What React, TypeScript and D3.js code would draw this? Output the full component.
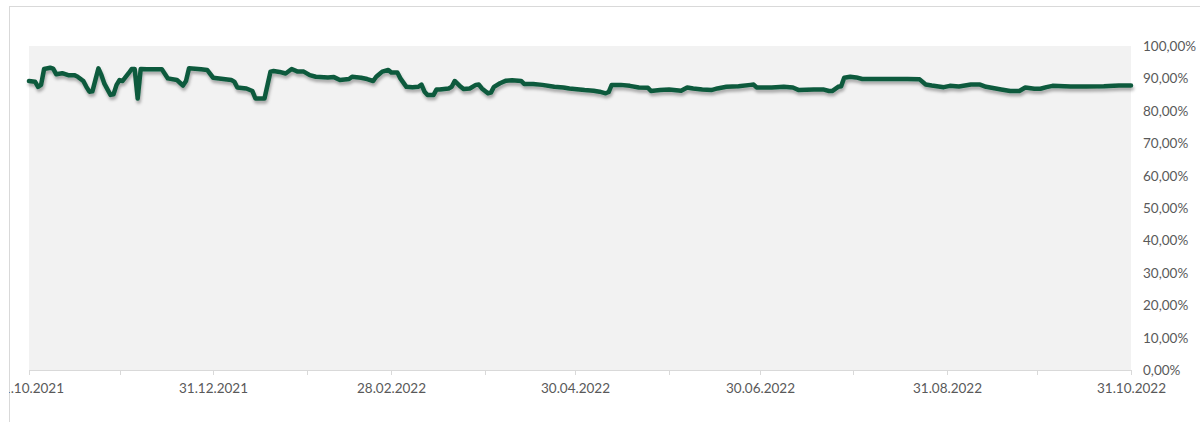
import React from "react";
import * as d3 from "d3";

const dates = [
  "2021-10-31","2021-11-02","2021-11-03","2021-11-04","2021-11-05","2021-11-07","2021-11-08","2021-11-09","2021-11-11","2021-11-13",
  "2021-11-15","2021-11-16","2021-11-18","2021-11-19","2021-11-20","2021-11-21","2021-11-23","2021-11-24","2021-11-25","2021-11-27",
  "2021-11-28","2021-11-29","2021-11-30","2021-12-01","2021-12-03","2021-12-04","2021-12-05","2021-12-06","2021-12-07","2021-12-09",
  "2021-12-14","2021-12-16","2021-12-19","2021-12-21","2021-12-22","2021-12-23","2021-12-27","2021-12-29","2021-12-31","2022-01-02",
  "2022-01-06","2022-01-07","2022-01-08","2022-01-11","2022-01-13","2022-01-14","2022-01-17","2022-01-19","2022-01-20","2022-01-22",
  "2022-01-24","2022-01-26","2022-01-28","2022-01-30","2022-02-01","2022-02-03","2022-02-07","2022-02-09","2022-02-11","2022-02-14",
  "2022-02-15","2022-02-18","2022-02-20","2022-02-22","2022-02-23","2022-02-25","2022-02-27","2022-02-28","2022-03-02","2022-03-03",
  "2022-03-05","2022-03-07","2022-03-09","2022-03-10","2022-03-11","2022-03-12","2022-03-14","2022-03-15","2022-03-16","2022-03-19",
  "2022-03-20","2022-03-21","2022-03-23","2022-03-24","2022-03-26","2022-03-28","2022-03-29","2022-03-30","2022-04-01","2022-04-02",
  "2022-04-03","2022-04-05","2022-04-07","2022-04-09","2022-04-12","2022-04-13","2022-04-16","2022-04-19","2022-04-23","2022-04-26",
  "2022-04-28","2022-05-03","2022-05-06","2022-05-08","2022-05-10","2022-05-11","2022-05-12","2022-05-15","2022-05-18","2022-05-21",
  "2022-05-24","2022-05-25","2022-05-28","2022-05-31","2022-06-04","2022-06-06","2022-06-08","2022-06-11","2022-06-14","2022-06-16",
  "2022-06-19","2022-06-23","2022-06-27","2022-06-28","2022-06-29","2022-07-04","2022-07-08","2022-07-11","2022-07-13","2022-07-18",
  "2022-07-21","2022-07-23","2022-07-24","2022-07-26","2022-07-27","2022-07-28","2022-07-30","2022-08-01","2022-08-03","2022-08-07",
  "2022-08-12","2022-08-18","2022-08-22","2022-08-24","2022-08-26","2022-08-30","2022-09-01","2022-09-04","2022-09-08","2022-09-11",
  "2022-09-13","2022-09-18","2022-09-21","2022-09-24","2022-09-26","2022-09-29","2022-10-01","2022-10-03","2022-10-05","2022-10-11",
  "2022-10-16","2022-10-22","2022-10-27","2022-10-31",
];

const values = [
  89.2, 89.0, 87.4, 88.0, 92.9, 93.3, 93.0, 91.3, 91.6, 91.0,
  91.0, 90.6, 89.2, 87.4, 85.9, 86.0, 93.1, 91.0, 88.3, 84.9,
  85.1, 88.0, 89.5, 89.2, 91.6, 92.9, 92.9, 83.8, 92.9, 92.8,
  92.8, 90.0, 89.5, 87.8, 89.2, 93.1, 92.8, 92.6, 90.2, 90.0,
  89.5, 89.0, 87.2, 86.9, 86.1, 83.8, 83.8, 92.1, 92.3, 92.0,
  91.5, 92.9, 92.1, 92.1, 91.0, 90.5, 90.3, 90.4, 89.5, 89.8,
  90.5, 90.2, 89.8, 89.2, 90.5, 92.1, 92.6, 91.8, 91.8, 90.0,
  87.4, 87.3, 87.4, 88.1, 85.9, 84.9, 84.9, 86.6, 86.6, 86.9,
  87.4, 89.2, 87.4, 86.7, 86.9, 88.0, 88.1, 86.9, 85.4, 85.6,
  87.4, 88.5, 89.3, 89.4, 89.2, 88.3, 88.3, 88.0, 87.4, 87.2,
  86.9, 86.4, 86.2, 85.9, 85.4, 85.8, 88.0, 88.0, 87.7, 87.2,
  87.1, 86.1, 86.4, 86.6, 86.2, 87.2, 86.9, 86.6, 86.4, 86.9,
  87.4, 87.6, 88.0, 88.1, 87.2, 87.2, 87.4, 87.2, 86.4, 86.6,
  86.6, 86.1, 86.1, 87.4, 87.6, 90.2, 90.5, 90.3, 89.8, 89.8,
  89.8, 89.8, 89.7, 88.1, 87.8, 87.3, 87.7, 87.5, 88.1, 88.1,
  87.4, 86.6, 86.1, 86.1, 87.2, 86.8, 86.8, 87.3, 87.7, 87.5,
  87.5, 87.6, 87.8, 87.8,
];

const tickDates = [
  "2021-10-31","2021-11-30","2021-12-31","2022-01-31","2022-02-28","2022-03-31","2022-04-30",
  "2022-05-31","2022-06-30","2022-07-31","2022-08-31","2022-09-30","2022-10-31",
];
const tickLabels = [
  "31.10.2021","","31.12.2021","","28.02.2022","","30.04.2022","","30.06.2022","","31.08.2022","","31.10.2022",
];

const yTicks = [0, 10, 20, 30, 40, 50, 60, 70, 80, 90, 100];
const yTickLabels = ["0,00%","10,00%","20,00%","30,00%","40,00%","50,00%","60,00%","70,00%","80,00%","90,00%","100,00%"];

const W = 1200;
const H = 422;
const M = { left: 29, right: 1131, top: 46, bottom: 370 };
const FONT = "Lato, 'Open Sans', sans-serif";

export default function App() {
  const parse = d3.utcParse("%Y-%m-%d");
  const x = d3
    .scaleUtc()
    .domain([parse(tickDates[0])!, parse(tickDates[tickDates.length - 1])!])
    .range([M.left, M.right]);
  const y = d3.scaleLinear().domain([0, 100]).range([M.bottom, M.top]);

  const pts = dates.map((d, i) => ({ d: parse(d)!, v: values[i] }));
  const line = d3
    .line<{ d: Date; v: number }>()
    .x((p) => x(p.d))
    .y((p) => y(p.v));

  return (
    <svg
      width={W}
      height={H}
      style={{ position: "absolute", left: 0, top: 0, display: "block", background: "#fff" }}
    >
      <defs>
        <clipPath id="frameClip">
          <rect x={9} y={6} width={1200} height={430} />
        </clipPath>
        <filter id="shadow" x="-5%" y="-50%" width="110%" height="200%">
          <feDropShadow dx={1} dy={3} stdDeviation={1.6} floodColor="#000" floodOpacity={0.3} />
        </filter>
      </defs>
      <rect x={9.5} y={6.5} width={1200} height={430} fill="#fff" stroke="#d9d9d9" strokeWidth={1} />
      <g clipPath="url(#frameClip)">
        <rect
          x={M.left}
          y={M.top}
          width={M.right - M.left}
          height={M.bottom - M.top}
          fill="#f2f2f2"
        />
        <line x1={M.left} x2={M.right} y1={M.bottom + 0.5} y2={M.bottom + 0.5} stroke="#d9d9d9" strokeWidth={1} />
        {tickDates.map((t, i) => {
          const xx = Math.round(x(parse(t)!)) + 0.5;
          return (
            <g key={t}>
              <line x1={xx} x2={xx} y1={M.bottom} y2={M.bottom + 5} stroke="#d9d9d9" strokeWidth={1} />
              {tickLabels[i] && (
                <text
                  x={xx}
                  y={M.bottom + 23}
                  textAnchor="middle"
                  fill="#595959"
                  fontFamily={FONT}
                  fontSize={13.5}
                >
                  {tickLabels[i]}
                </text>
              )}
            </g>
          );
        })}
        {yTicks.map((t, i) => (
          <text
            key={t}
            x={M.right + 12}
            y={y(t) + 5}
            textAnchor="start"
            fill="#595959"
            fontFamily={FONT}
            fontSize={13.5}
          >
            {yTickLabels[i]}
          </text>
        ))}
        <path
          d={line(pts) || ""}
          fill="none"
          stroke="#0c5a3c"
          strokeWidth={4.5}
          strokeLinejoin="round"
          strokeLinecap="round"
          filter="url(#shadow)"
        />
      </g>
    </svg>
  );
}
